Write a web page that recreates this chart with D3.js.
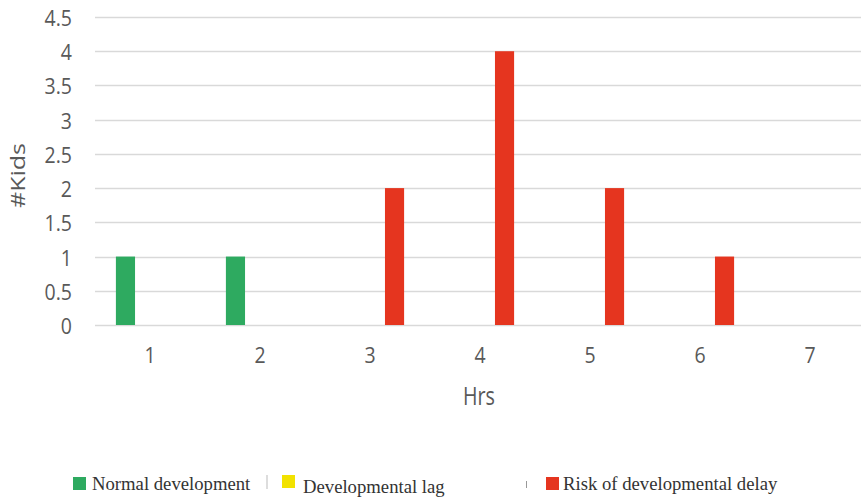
<!DOCTYPE html>
<html>
<head>
<meta charset="utf-8">
<script src="https://cdn.jsdelivr.net/npm/d3@7"></script>
<style>
  html, body { margin: 0; padding: 0; background: #fff; }
  svg { display: block; }
</style>
</head>
<body>
<svg id="chart" width="861" height="502"></svg>
<script>
const hrs = ["1", "2", "3", "4", "5", "6", "7"];
const seriesNames = ["Normal development", "Developmental lag", "Risk of developmental delay"];
const normalDevelopment = [1, 1, 0, 0, 0, 0, 0];
const developmentalLag = [0, 0, 0, 0, 0, 0, 0];
const riskOfDelay = [0, 0, 2, 4, 2, 1, 0];
const yTicks = [0, 0.5, 1, 1.5, 2, 2.5, 3, 3.5, 4, 4.5];
const colors = ["#2EAA60", "#F2E200", "#E5351F"];
const xTitle = "Hrs";
const yTitle = "#Kids";

const seriesValues = [normalDevelopment, developmentalLag, riskOfDelay];

const svg = d3.select("#chart");
const plotLeft = 95, plotRight = 865, plotTop = 17, plotBottom = 325;
const axisFont = "Open Sans, sans-serif";
const axisColor = "#595959";

const x = d3.scaleBand().domain(hrs).range([plotLeft, plotRight]).paddingInner(0).paddingOuter(0);
const inner = d3.scaleBand().domain(seriesNames)
  .range([x.bandwidth() * 0.19, x.bandwidth() * 0.81]).paddingInner(0.22);
const y = d3.scaleLinear().domain([0, 4.5]).range([plotBottom, plotTop]);

// gridlines
svg.append("g")
  .selectAll("line").data(yTicks).join("line")
  .attr("x1", plotLeft).attr("x2", 861)
  .attr("y1", d => Math.round(y(d)) + 0.5).attr("y2", d => Math.round(y(d)) + 0.5)
  .attr("stroke", "#d9d9d9").attr("stroke-width", 1.3);

// y axis labels
const yAxis = d3.axisLeft(y).tickValues(yTicks).tickSize(0).tickPadding(0)
  .tickFormat(d => String(d));
const yg = svg.append("g").attr("transform", `translate(72,0)`).call(yAxis);
yg.select(".domain").remove();
yg.selectAll("text")
  .attr("font-family", axisFont).attr("font-size", 19.5).attr("fill", axisColor)
  .attr("x", 0).attr("dy", 0).attr("y", 8.5 / 1.15)
  .attr("transform", "scale(1,1.15)");

// x axis labels
const xAxis = d3.axisBottom(x).tickSize(0).tickPadding(0);
const xg = svg.append("g").attr("transform", `translate(0,363)`).call(xAxis);
xg.select(".domain").remove();
xg.selectAll("text")
  .attr("font-family", axisFont).attr("font-size", 19.5).attr("fill", axisColor)
  .attr("y", 0).attr("dy", 0)
  .attr("transform", "scale(1,1.15)");

// bars
seriesNames.forEach((name, si) => {
  svg.append("g")
    .selectAll("rect").data(hrs.map((h, i) => ({ h, v: seriesValues[si][i] })))
    .join("rect")
    .attr("x", d => x(d.h) + inner(name))
    .attr("width", inner.bandwidth())
    .attr("y", d => y(d.v))
    .attr("height", d => y(0) - y(d.v))
    .attr("fill", colors[si]);
});

// axis titles
svg.append("text")
  .attr("transform", `translate(479,405) scale(1,1.3)`)
  .attr("text-anchor", "middle")
  .attr("font-family", axisFont).attr("font-size", 19.7)
  .attr("fill", axisColor).text(xTitle);

svg.append("text")
  .attr("transform", `translate(25,175.5) rotate(-90) scale(1.25,1)`)
  .attr("text-anchor", "middle")
  .attr("font-family", axisFont).attr("font-size", 20)
  .attr("fill", axisColor).text(yTitle);

// legend
const legendItems = [
  { sx: 73, sy: 477, tx: 92, ty: 490 },
  { sx: 282, sy: 475, tx: 303, ty: 493 },
  { sx: 546, sy: 477, tx: 563, ty: 490 }
];
const lg = svg.append("g");
seriesNames.forEach((name, i) => {
  const it = legendItems[i];
  lg.append("rect").attr("x", it.sx).attr("y", it.sy).attr("width", 13).attr("height", 13)
    .attr("fill", colors[i]);
  lg.append("text").attr("x", it.tx).attr("y", it.ty)
    .attr("font-family", "Liberation Serif, Times New Roman, serif")
    .attr("font-size", 18.7).attr("fill", "#333")
    .text(name);
});
// small separator marks seen in the legend
lg.append("line").attr("x1", 267).attr("x2", 267).attr("y1", 475).attr("y2", 489)
  .attr("stroke", "#bbb").attr("stroke-width", 1);
lg.append("line").attr("x1", 526.5).attr("x2", 526.5).attr("y1", 481).attr("y2", 488)
  .attr("stroke", "#999").attr("stroke-width", 1);
</script>
</body>
</html>
